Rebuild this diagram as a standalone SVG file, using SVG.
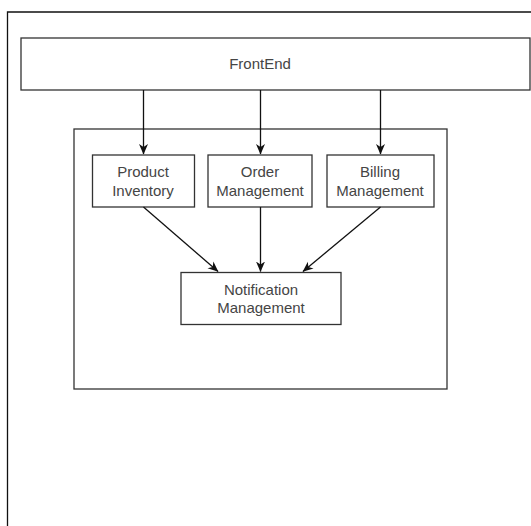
<svg xmlns="http://www.w3.org/2000/svg" width="531" height="526" viewBox="0 0 531 526">
  <style>
    .box { fill: #ffffff; stroke: #333333; stroke-width: 1.3; }
    .frame { fill: none; stroke: #111111; stroke-width: 1.3; }
    .lbl { font-family: "Liberation Sans", Arial, sans-serif; font-size: 15px; fill: #454545; text-anchor: middle; }
    .edge { fill: none; stroke: #111111; stroke-width: 1.3; marker-end: url(#arrow); }
  </style>
  <defs>
    <marker id="arrow" markerWidth="12" markerHeight="12" refX="10" refY="6" orient="auto" markerUnits="userSpaceOnUse">
      <path d="M0,1.5 L10.5,6 L0,10.5 L3,6 Z" fill="#111111"/>
    </marker>
  </defs>
  <rect width="531" height="526" fill="#ffffff"/>
  <!-- page frame -->
  <path class="frame" d="M7.5,526 L7.5,12 L531,12"/>

  <g id="frontend">
    <rect class="box" x="21" y="38" width="509" height="52"/>
    <text class="lbl" x="260" y="69">FrontEnd</text>
  </g>

  <g id="services">
    <rect class="box" x="74" y="129" width="373" height="260"/>
  </g>

  <g id="product-inventory">
    <rect class="box" x="92.5" y="155" width="102" height="52"/>
    <text class="lbl" x="143" y="177">Product</text>
    <text class="lbl" x="143" y="195.5">Inventory</text>
  </g>

  <g id="order-management">
    <rect class="box" x="208" y="155" width="104" height="52"/>
    <text class="lbl" x="260" y="177">Order</text>
    <text class="lbl" x="260" y="195.5">Management</text>
  </g>

  <g id="billing-management">
    <rect class="box" x="327" y="155" width="107" height="52"/>
    <text class="lbl" x="380" y="177">Billing</text>
    <text class="lbl" x="380" y="195.5">Management</text>
  </g>

  <g id="notification-management">
    <rect class="box" x="181" y="272.5" width="160" height="52"/>
    <text class="lbl" x="261" y="294.5">Notification</text>
    <text class="lbl" x="261" y="313">Management</text>
  </g>

  <g id="connectors">
    <line class="edge" x1="143.5" y1="90" x2="143.5" y2="154"/>
    <line class="edge" x1="260.5" y1="90" x2="260.5" y2="154"/>
    <line class="edge" x1="380.5" y1="90" x2="380.5" y2="154"/>
    <line class="edge" x1="143.5" y1="207" x2="218" y2="271.5"/>
    <line class="edge" x1="260.5" y1="207" x2="260.5" y2="271.5"/>
    <line class="edge" x1="380.5" y1="207" x2="303" y2="271.5"/>
  </g>
</svg>
